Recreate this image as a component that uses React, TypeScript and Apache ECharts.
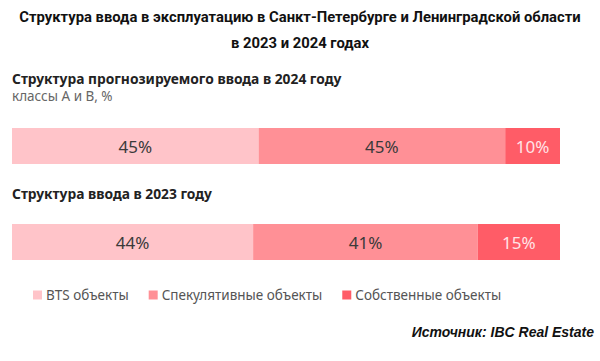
import React, { useEffect, useRef } from "react";
import * as echarts from "echarts";

const categories = ["2024", "2023"];
const seriesNames = ["BTS объекты", "Спекулятивные объекты", "Собственные объекты"];
const btsValues = [45, 44];
const specValues = [45, 41];
const ownValues = [10, 15];
const colors = ["#FFC4C9", "#FF9096", "#FF5C67"];
const labelColors = ["#3a3a3a", "#3a3a3a", "#FFE3E6"];

export default function App() {
  const ref = useRef<HTMLDivElement>(null);
  useEffect(() => {
    document.body.style.margin = "0";
    const chart = echarts.init(ref.current!, null, { renderer: "svg" });
    const data = [btsValues, specValues, ownValues];
    chart.setOption({
      animation: false,
      backgroundColor: "#ffffff",
      grid: { left: 12, right: 40, top: 98, bottom: 71 },
      xAxis: { type: "value", min: 0, max: 100, show: false },
      yAxis: { type: "category", data: categories, inverse: true, show: false },
      legend: {
        left: 28,
        top: 283,
        itemWidth: 9,
        itemHeight: 9,
        itemGap: 20,
        icon: "rect",
        textStyle: { fontFamily: "Noto Sans", fontSize: 13.5, color: "#555555", padding: [0, 0, 0, -1] },
        data: seriesNames,
      },
      series: seriesNames.map((name, i) => ({
        name,
        type: "bar",
        stack: "total",
        barWidth: 36,
        data: data[i],
        itemStyle: { color: colors[i] },
        label: {
          show: true,
          position: "inside",
          formatter: "{c}%",
          fontFamily: "Noto Sans",
          fontSize: 17,
          color: labelColors[i],
        },
      })),
      graphic: [
        {
          type: "text",
          left: "center",
          top: 9,
          style: {
            text: "Структура ввода в эксплуатацию в Санкт-Петербурге и Ленинградской области",
            font: "bold 14.8px Roboto",
            fill: "#111111",
          },
        },
        {
          type: "text",
          left: "center",
          top: 35,
          style: { text: "в 2023 и 2024 годах", font: "bold 14.8px Roboto", fill: "#111111" },
        },
        {
          type: "text",
          left: 12,
          top: 71,
          style: { text: "Структура прогнозируемого ввода в 2024 году", font: "bold 13.8px 'Noto Sans'", fill: "#222222" },
        },
        {
          type: "text",
          left: 12,
          top: 89,
          style: { text: "классы A и B, %", font: "13.5px 'Noto Sans'", fill: "#666666" },
        },
        {
          type: "text",
          left: 12,
          top: 186,
          style: { text: "Структура ввода в 2023 году", font: "bold 13.8px 'Noto Sans'", fill: "#222222" },
        },
        {
          type: "text",
          right: 6,
          top: 325,
          style: { text: "Источник: IBC Real Estate", font: "italic bold 14px 'Liberation Sans'", fill: "#111111" },
        },
      ],
    });
    return () => chart.dispose();
  }, []);
  return <div ref={ref} style={{ width: 600, height: 361 }} />;
}
